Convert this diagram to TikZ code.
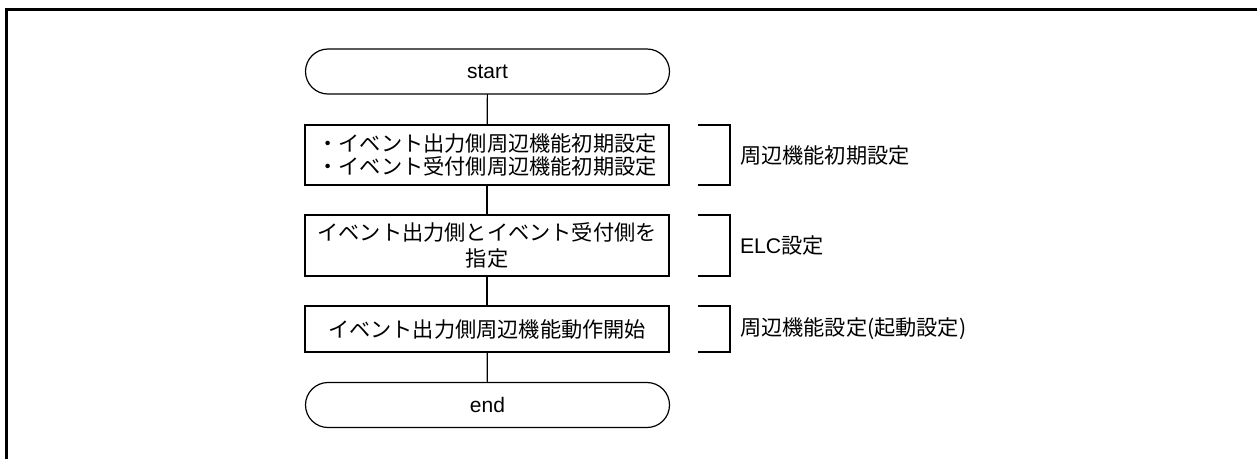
\documentclass[tikz,border=0pt]{standalone}
\usepackage{fontspec}
\setmainfont{Liberation Sans}
\newfontfamily\jp{Noto Sans CJK JP}
\begin{document}
\begin{tikzpicture}[x=1pt,y=-1pt,
  every node/.style={inner sep=0pt,outer sep=0pt},
  term/.style={draw,line width=1.2pt,rounded corners=22.5pt,minimum width=364pt,minimum height=45pt,font=\fontsize{21}{24}\selectfont},
  proc/.style={draw,line width=1.2pt,minimum width=364pt,align=center,font=\fontsize{21.2}{23}\selectfont\jp},
  lbl/.style={anchor=west,font=\fontsize{21.2}{24}\selectfont},
  conn/.style={line width=1.2pt},
  brk/.style={line width=1.2pt}]
\useasboundingbox (0,0) rectangle (1257,459);
\draw[line width=3pt] (6,459) -- (6,9.5) -- (1257,9.5);

\node[term] (start) at (487.5,71.5) {start};
\node[proc,minimum height=60pt] (b1) at (487,155) {・イベント出力側周辺機能初期設定\\・イベント受付側周辺機能初期設定};
\node[proc,minimum height=61pt,font=\fontsize{21.2}{26}\selectfont\jp] (b2) at (487,245.5) {イベント出力側とイベント受付側を\\指定};
\node[proc,minimum height=46pt] (b3) at (487,329) {イベント出力側周辺機能動作開始};
\node[term] (end) at (487.5,405) {end};

\draw[conn] (start) -- (b1);
\draw[conn] (b1) -- (b2);
\draw[conn] (b2) -- (b3);
\draw[conn] (b3) -- (end);

\draw[brk] ([xshift=29pt]b1.north east) -| ([xshift=61pt]b1.south east) -- ([xshift=29pt]b1.south east);
\draw[brk] ([xshift=29pt]b2.north east) -| ([xshift=61pt]b2.south east) -- ([xshift=29pt]b2.south east);
\draw[brk] ([xshift=29pt]b3.north east) -| ([xshift=61pt]b3.south east) -- ([xshift=29pt]b3.south east);

\node[lbl] (l1) at (740,155) {\jp 周辺機能初期設定};
\node[lbl] (l2) at (740,245.5) {ELC{\jp 設定}};
\node[lbl] (l3) at (740,329) {\jp 周辺機能設定(起動設定)};
\end{tikzpicture}
\end{document}
